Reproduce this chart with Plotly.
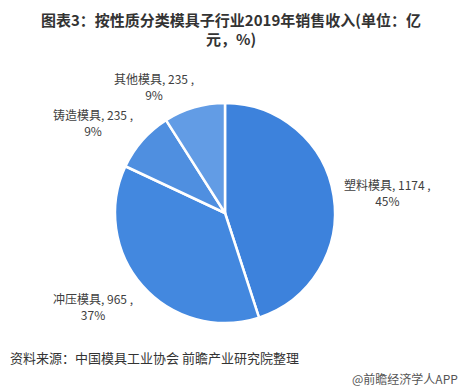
import plotly.graph_objects as go

categories = ["塑料模具", "冲压模具", "铸造模具", "其他模具"]
values = [1174, 965, 235, 235]
colors = ["#3D82DC", "#4388DF", "#4F8FE0", "#629CE5"]

W, H = 465, 391
total = sum(values)
pcts = [round(v / total * 100) for v in values]

fig = go.Figure()
fig.add_trace(go.Pie(
    labels=categories, values=values, sort=False, direction="clockwise",
    rotation=0, textinfo="none", hoverinfo="label+value+percent",
    marker=dict(colors=colors, line=dict(color="white", width=2.5)),
    domain=dict(x=[(225 - 110) / W, (225 + 110) / W], y=[1 - 323 / H, 1 - 103 / H]),
    showlegend=False,
))

# label positions (pixel centres)
label_pos = [(387, 193), (93, 306), (93, 122), (154, 87)]
for cat, v, p, (px, py) in zip(categories, values, pcts, label_pos):
    fig.add_annotation(
        x=px / W, y=1 - py / H, xref="paper", yref="paper",
        text=f"{cat}, {v} ,<br>{p}%", showarrow=False,
        font=dict(family="Noto Sans CJK SC", size=12, color="#404040"),
        align="center", xanchor="center", yanchor="middle",
    )

title_lines = ["图表3：按性质分类模具子行业2019年销售收入(单位：亿", "元，%)"]
for line, py in zip(title_lines, [20, 38]):
    fig.add_annotation(
        x=231 / W, y=1 - py / H, xref="paper", yref="paper",
        text=f"<b>{line}</b>", showarrow=False,
        font=dict(family="Noto Sans CJK SC", size=15, color="#333333"),
        xanchor="center", yanchor="middle",
    )
fig.add_annotation(
    x=8 / W, y=1 - 357 / H, xref="paper", yref="paper",
    text="资料来源：中国模具工业协会 前瞻产业研究院整理", showarrow=False,
    font=dict(family="Noto Sans CJK SC", size=13, color="#333333"),
    xanchor="left", yanchor="middle",
)
fig.add_annotation(
    x=460 / W, y=1 - 378 / H, xref="paper", yref="paper",
    text="@前瞻经济学人APP", showarrow=False,
    font=dict(family="Noto Sans CJK SC", size=12, color="#555555"),
    xanchor="right", yanchor="middle",
)

fig.update_layout(
    width=W, height=H, margin=dict(l=0, r=0, t=0, b=0),
    paper_bgcolor="white", plot_bgcolor="white",
)
fig.write_html("out.html")
